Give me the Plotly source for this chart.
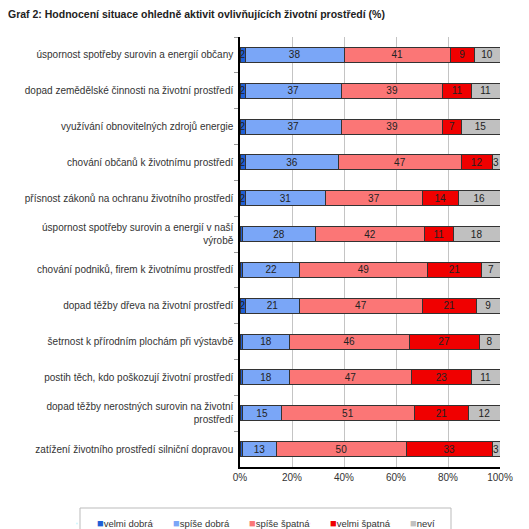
import plotly.graph_objects as go

categories = [
    "úspornost spotřeby surovin a energií občany",
    "dopad zemědělské činnosti na životní prostředí",
    "využívání obnovitelných zdrojů energie",
    "chování občanů k životnímu prostředí",
    "přísnost zákonů na ochranu životního prostředí",
    "úspornost spotřeby surovin a energií v naší<br>výrobě",
    "chování podniků, firem k životnímu prostředí",
    "dopad těžby dřeva na životní prostředí",
    "šetrnost k přírodním plochám při výstavbě",
    "postih těch, kdo poškozují životní prostředí",
    "dopad těžby nerostných surovin na životní<br>prostředí",
    "zatížení životního prostředí silniční dopravou",
]

velmi_dobra = [2, 2, 2, 2, 2, 1, 1, 2, 1, 1, 1, 1]
spise_dobra = [38, 37, 37, 36, 31, 28, 22, 21, 18, 18, 15, 13]
spise_spatna = [41, 39, 39, 47, 37, 42, 49, 47, 46, 47, 51, 50]
velmi_spatna = [9, 11, 7, 12, 14, 11, 21, 21, 27, 23, 21, 33]
nevi = [10, 11, 15, 3, 16, 18, 7, 9, 8, 11, 12, 3]

series_names = ["velmi dobrá", "spíše dobrá", "spíše špatná", "velmi špatná", "neví"]
series_values = [velmi_dobra, spise_dobra, spise_spatna, velmi_spatna, nevi]
series_colors = ["#1f5fd6", "#7aa6f7", "#fb7676", "#f00000", "#c0c0c0"]

x_ticks = [0, 20, 40, 60, 80, 100]
x_tick_labels = ["0%", "20%", "40%", "60%", "80%", "100%"]

FONT = "Liberation Sans, Arial, sans-serif"

# page body has an 8px default margin -> figure is 521x521 placed at (8,8)
W = H = 521
ML, MR, MT, MB = 232, 29, 29, 62
PW, PH = W - ML - MR, H - MT - MB

def px_x(wx):  # window x -> paper x
    return (wx - 8 - ML) / PW

def px_y(wy):  # window y -> paper y
    return (H - MB - (wy - 8)) / PH

# legend entry left edges (window px); entry text starts ~39px to the right
legend_left = [57, 133, 209, 290, 370]

fig = go.Figure()
for name, vals, color in zip(series_names, series_values, series_colors):
    fig.add_trace(go.Bar(
        y=categories, x=vals, name=name, orientation="h",
        marker=dict(color=color, line=dict(color="#333333", width=1)),
        text=[str(v) if v >= 2 else "" for v in vals],
        textposition="inside", insidetextanchor="middle",
        constraintext="none", textangle=0,
        textfont=dict(family=FONT, size=10, color="#222222"),
        showlegend=False,
    ))

# legend entries: small coloured square glyph + label (Excel style)
legends = {}
for i, (name, color, lx) in enumerate(zip(series_names, series_colors, legend_left)):
    key = "legend" if i == 0 else f"legend{i+1}"
    fig.add_trace(go.Scatter(
        x=[None], y=[None], mode="markers",
        marker=dict(opacity=0, size=1),
        name=f"<span style='color:{color};font-size:11px'>■</span>{name}",
        showlegend=True, legend=key, hoverinfo="skip",
    ))
    legends[key] = dict(
        x=px_x(lx), xanchor="left", y=px_y(509), yanchor="top",
        borderwidth=0, bgcolor="rgba(0,0,0,0)",
        font=dict(size=9.5, color="#333333", family=FONT),
        itemwidth=30,
    )

fig.update_layout(
    barmode="stack", barnorm="percent", bargap=0.58,
    width=W, height=H,
    margin=dict(l=ML, r=MR, t=MT, b=MB, autoexpand=False),
    plot_bgcolor="white", paper_bgcolor="white",
    font=dict(family=FONT, size=10, color="#333333"),
    title=dict(
        text="<b>Graf 2: Hodnocení situace ohledně aktivit ovlivňujících životní prostředí (%)</b>",
        x=0.0, xanchor="left", xref="container", pad=dict(l=0),
        y=1-6/H, yanchor="middle", yref="container",
        font=dict(size=10.5, color="#222222"),
    ),
    showlegend=True,
    xaxis=dict(
        range=[0, 100], tickvals=x_ticks, ticktext=x_tick_labels,
        showgrid=True, gridcolor="#c4c4c4", gridwidth=1,
        showline=True, linecolor="#000000", linewidth=1.5,
        zeroline=False, ticks="", tickfont=dict(size=10, color="#333333"),
        automargin=False,
    ),
    yaxis=dict(
        autorange="reversed", showline=True, linecolor="#000000", linewidth=1.5,
        ticks="outside", tickson="boundaries", ticklen=4, tickcolor="#999999",
        tickfont=dict(size=10, color="#333333"), showgrid=False,
        automargin=False, ticklabelstandoff=3,
    ),
    shapes=[dict(
        type="rect", xref="paper", yref="paper",
        x0=px_x(80), x1=px_x(451), y0=px_y(508), y1=px_y(545),
        line=dict(color="#bbbbbb", width=1), fillcolor="rgba(0,0,0,0)",
        layer="above",
    )],
    **legends,
)

fig.write_html("out.html")
